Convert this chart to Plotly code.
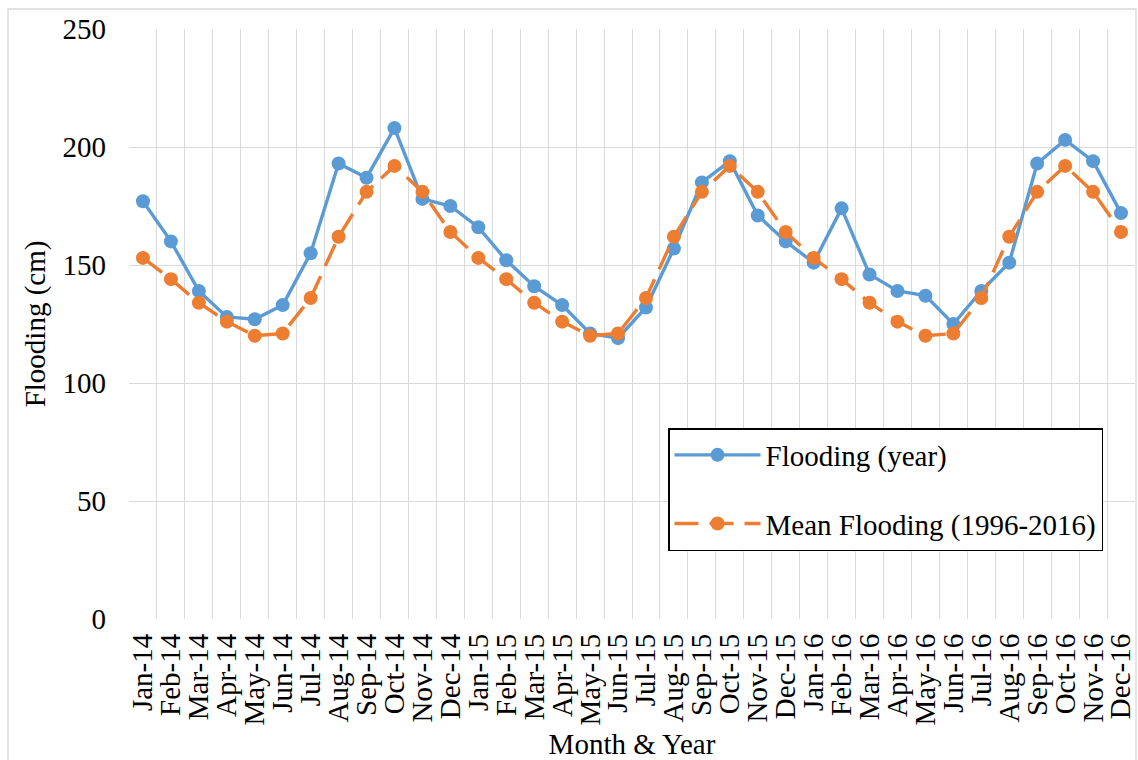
import plotly.graph_objects as go

# Monthly labels, Jan 2014 – Dec 2016
months = ["Jan", "Feb", "Mar", "Apr", "May", "Jun",
          "Jul", "Aug", "Sep", "Oct", "Nov", "Dec"]
years = ["14", "15", "16"]
categories = [f"{m}-{y}" for y in years for m in months]

# Observed monthly flooding depth (cm)
flooding_year = [177, 160, 139, 128, 127, 133, 155, 193, 187, 208, 178, 175,
                 166, 152, 141, 133, 121, 119, 132, 157, 185, 194, 171, 160,
                 151, 174, 146, 139, 137, 125, 139, 151, 193, 203, 194, 172]

# Long-term monthly mean flooding depth (cm), 1996-2016
mean_flooding = [153, 144, 134, 126, 120, 121, 136, 162, 181, 192, 181, 164,
                 153, 144, 134, 126, 120, 121, 136, 162, 181, 192, 181, 164,
                 153, 144, 134, 126, 120, 121, 136, 162, 181, 192, 181, 164]

y_ticks = [0, 50, 100, 150, 200, 250]

BLUE = "#5B9BD5"
ORANGE = "#ED7D31"
GRID = "#D9D9D9"
FONT = "Liberation Serif"

fig = go.Figure()
fig.add_trace(go.Scatter(
    x=categories, y=flooding_year, name="Flooding (year)",
    mode="lines+markers",
    line=dict(color=BLUE, width=3.4),
    marker=dict(color=BLUE, size=14),
    legendgroup="a",
))
fig.add_trace(go.Scatter(
    x=categories, y=mean_flooding, name="Mean Flooding (1996-2016)",
    mode="lines+markers",
    line=dict(color=ORANGE, width=3.4, dash="24px,11px"),
    marker=dict(color=ORANGE, size=14),
    legendgroup="b",
))

W, H = 1138, 760
ml, mr, mt, mb = 129, 3, 29, 141
pw, ph = W - ml - mr, H - mt - mb

def px_x(x):
    return (x - ml) / pw

def px_y(y):
    return (H - mb - y) / ph

# outer chart-area frame
fig.add_shape(type="rect", xref="paper", yref="paper",
              x0=px_x(8), x1=px_x(1136), y0=px_y(790), y1=px_y(9),
              line=dict(color=GRID, width=1.3), layer="below")

fig.update_layout(
    width=W, height=H,
    margin=dict(l=ml, r=mr, t=mt, b=mb, autoexpand=False),
    paper_bgcolor="white", plot_bgcolor="white",
    font=dict(family=FONT, size=29, color="black"),
    showlegend=True,
    legend=dict(
        x=px_x(668), y=px_y(428), xanchor="left", yanchor="top",
        bgcolor="white", bordercolor="black", borderwidth=1.5,
        font=dict(family=FONT, size=29, color="black"),
        traceorder="grouped", tracegroupgap=28,
        itemwidth=86,
    ),
    xaxis=dict(
        type="category", range=[-0.5, len(categories) - 0.5],
        tickmode="array", tickvals=categories, ticktext=categories,
        tickson="boundaries", ticks="", showline=False,
        showgrid=True, gridcolor=GRID, gridwidth=1.4,
        tickangle=-90, ticklabelstandoff=8,
        tickfont=dict(family=FONT, size=29),
        title=dict(text="Month & Year", font=dict(family=FONT, size=29), standoff=12),
        automargin=False,
    ),
    yaxis=dict(
        range=[0, 250], tickvals=y_ticks, ticks="", showline=False,
        showgrid=True, gridcolor=GRID, gridwidth=1.4, zeroline=False,
        ticklabelstandoff=22,
        tickfont=dict(family=FONT, size=29),
        title=dict(text="Flooding (cm)", font=dict(family=FONT, size=29), standoff=8),
        automargin=False,
    ),
)

fig.write_html("out.html")
